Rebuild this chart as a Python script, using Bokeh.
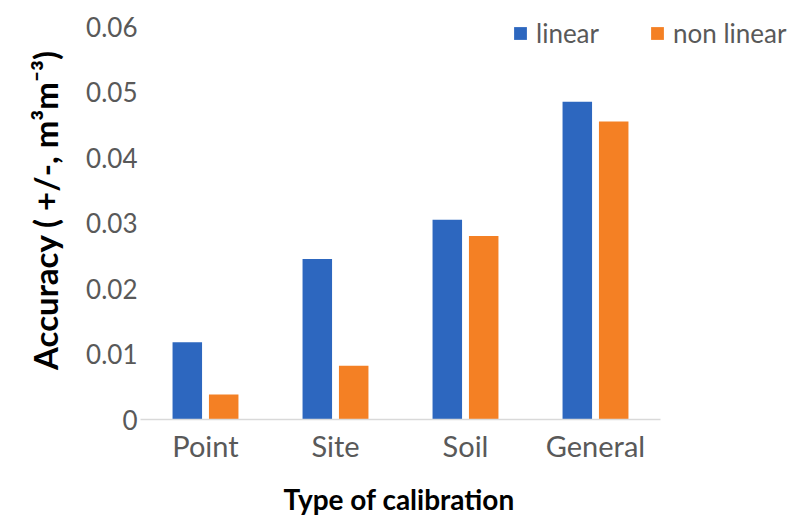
from bokeh.plotting import figure
from bokeh.models import ColumnDataSource, FixedTicker, NumeralTickFormatter, Legend, LegendItem, Range1d, Title
from bokeh.transform import dodge
from bokeh.embed import file_html
from bokeh.resources import INLINE

categories = ["Point", "Site", "Soil", "General"]
linear = [0.0118, 0.0245, 0.0305, 0.0485]
non_linear = [0.0038, 0.0082, 0.028, 0.0455]
y_ticks = [0, 0.01, 0.02, 0.03, 0.04, 0.05, 0.06]
series_names = ["linear", "non linear"]
x_title = "Type of calibration"
y_title = "Accuracy ( +/-, m³m⁻³)"

BLUE = "#2D67BF"
ORANGE = "#F48024"
GRAY = "#595959"
FONT = "Lato"

idx = list(range(len(categories)))
source = ColumnDataSource(dict(idx=idx, cat=categories, linear=linear, non_linear=non_linear))

p = figure(x_range=Range1d(-0.5, 4.5), y_range=Range1d(0, 0.06397),
           width=790, height=530, output_backend="svg", toolbar_location=None,
           min_border_left=140, min_border_right=0, min_border_top=0, min_border_bottom=111)
p.outline_line_color = None
p.xgrid.grid_line_color = None
p.ygrid.grid_line_color = None
p.background_fill_color = "white"
p.border_fill_color = "white"

r1 = p.vbar(x=dodge("idx", -0.14), top="linear", width=0.227,
            source=source, fill_color=BLUE, line_color=None)
r2 = p.vbar(x=dodge("idx", 0.14), top="non_linear", width=0.227,
            source=source, fill_color=ORANGE, line_color=None)

# y axis
p.yaxis.ticker = FixedTicker(ticks=y_ticks)
p.yaxis.bounds = (y_ticks[0], y_ticks[-1])
p.yaxis.formatter = NumeralTickFormatter(format="0.[00]")
p.yaxis.axis_line_color = None
p.yaxis.major_tick_line_color = None
p.yaxis.major_tick_out = 0
p.yaxis.minor_tick_line_color = None
p.yaxis.major_label_text_font = FONT
p.yaxis.major_label_text_font_size = "26px"
p.yaxis.major_label_text_color = GRAY
p.yaxis.major_label_standoff = 3
p.yaxis.axis_label = y_title
p.yaxis.axis_label_text_font = FONT
p.yaxis.axis_label_text_font_size = "33px"
p.yaxis.axis_label_text_font_style = "bold"
p.yaxis.axis_label_text_color = "black"
p.yaxis.axis_label_standoff = 18

# x axis
p.xaxis.ticker = FixedTicker(ticks=idx)
p.xaxis.major_label_overrides = {i: c for i, c in zip(idx, categories)}
p.xaxis.bounds = (-0.5, len(categories) - 0.5)
p.xaxis.axis_line_color = "#D9D9D9"
p.xaxis.axis_line_width = 1.5
p.xaxis.major_tick_line_color = None
p.xaxis.major_tick_out = 0
p.xaxis.minor_tick_line_color = None
p.xaxis.major_label_text_font = FONT
p.xaxis.major_label_text_font_size = "29px"
p.xaxis.major_label_text_color = GRAY
p.xaxis.major_label_standoff = 8

# x-axis title, centred under the category span (not the whole frame)
p.add_layout(Title(text=x_title, align="left", offset=143, standoff=28,
                   text_font=FONT, text_font_size="28px", text_font_style="bold",
                   text_color="black"), "below")

legend = Legend(items=[LegendItem(label=series_names[0], renderers=[r1]),
                       LegendItem(label=series_names[1], renderers=[r2])],
                orientation="horizontal", location=(372, 370),
                label_text_font=FONT, label_text_font_size="26px", label_text_color=GRAY,
                glyph_width=16, glyph_height=16, label_standoff=8, spacing=50,
                padding=0, margin=0, border_line_color=None, background_fill_alpha=0)
p.add_layout(legend, "center")

open("out.html", "w").write(file_html(p, INLINE))
